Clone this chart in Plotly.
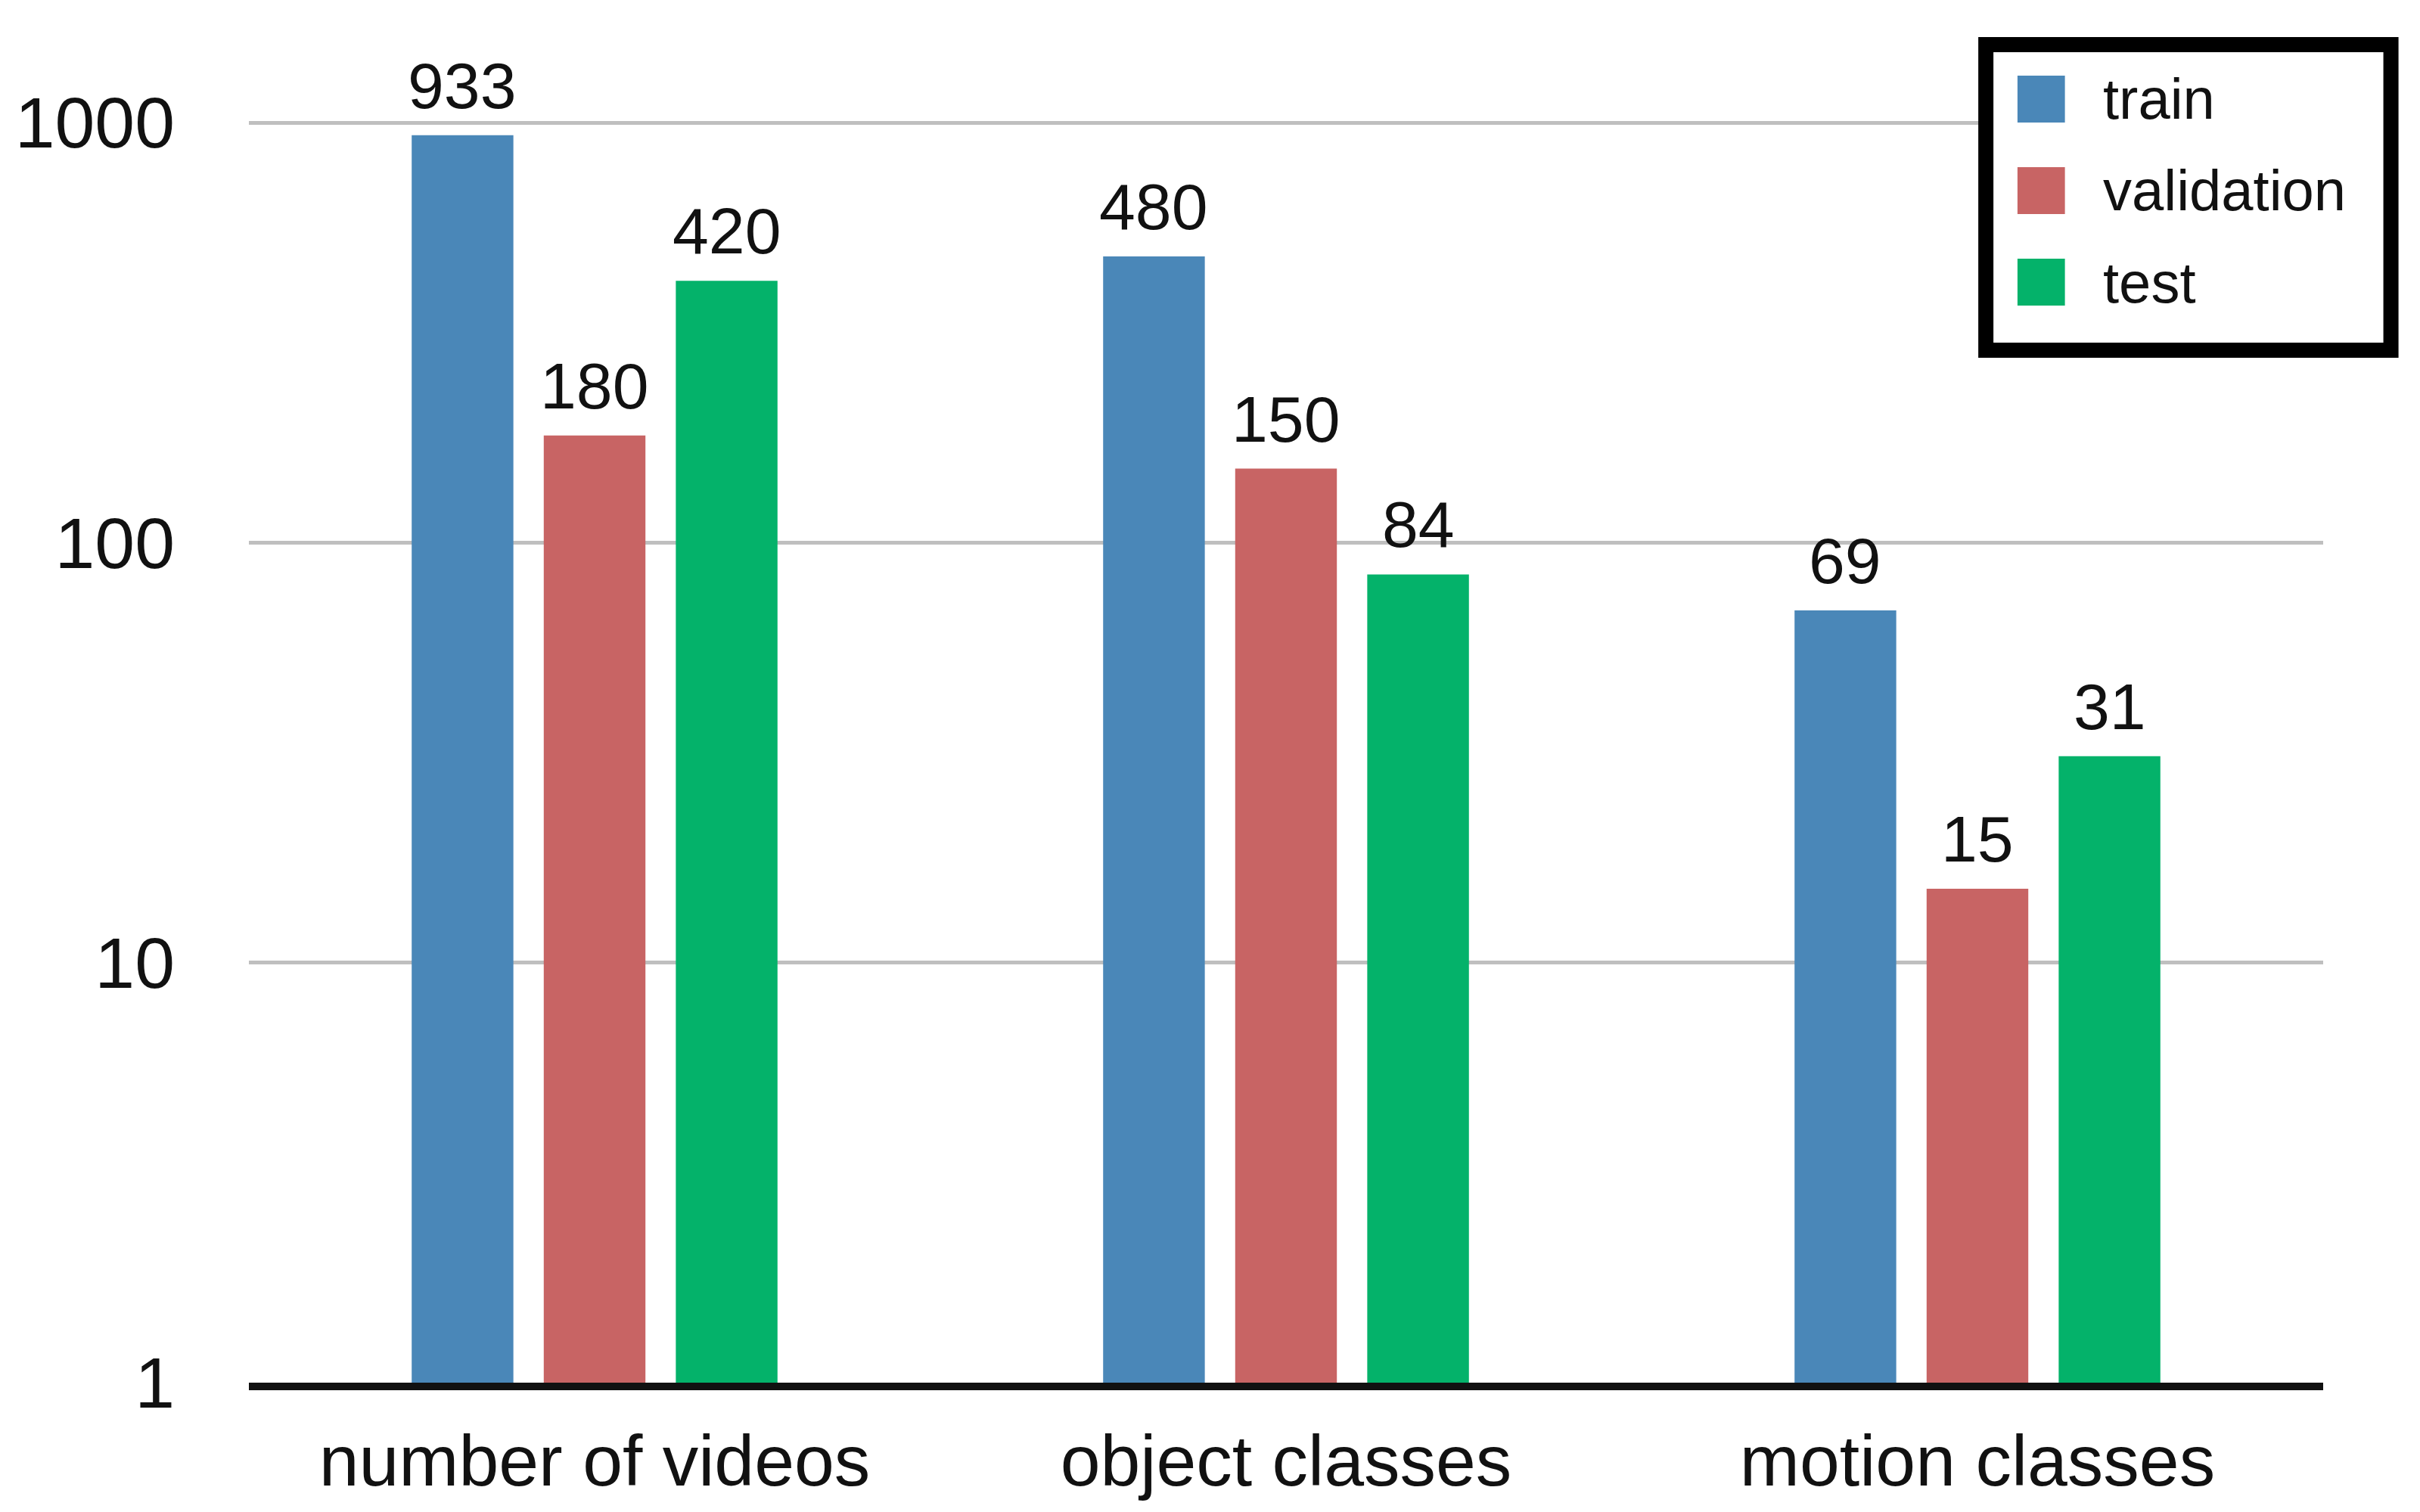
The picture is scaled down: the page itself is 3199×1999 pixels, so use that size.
import math
import plotly.graph_objects as go

categories = ["number of videos", "object classes", "motion classes"]
series_names = ["train", "validation", "test"]
train = [933, 480, 69]
validation = [180, 150, 15]
test = [420, 84, 31]
colors = ["#4a87b8", "#c86464", "#04b26a"]
y_ticks = [1, 10, 100, 1000]

W, H = 3199, 1999
ML, MR, MT, MB = 308, 136, 12, 179
PW, PH = W - ML - MR, H - MT - MB
DECADE = 555.3  # px per decade on the reference
BARGAP, GROUPGAP = 0.427, 0.23
SLOT = PW / len(categories) * (1 - BARGAP) / len(series_names)  # px per bar slot


def px(x):
    return (x - ML) / PW


def py(y):
    return 1 - (y - MT) / PH


fig = go.Figure()
for i, (name, vals, col) in enumerate(zip(series_names, [train, validation, test], colors)):
    fig.add_trace(go.Bar(x=categories, y=vals, name=name, showlegend=False,
                         marker={"color": col, "line": {"width": 0}}))
    # value labels sit a bit higher above the bars than plotly's outside text
    for cat, v in zip(categories, vals):
        fig.add_annotation(x=cat, y=math.log10(v), text=str(v), showarrow=False,
                           yanchor="middle", xshift=(i - 1) * SLOT, yshift=66,
                           font={"size": 86, "color": "#111111"})

# hand-drawn legend (plotly's legend swatches don't scale)
fig.add_shape(type="rect", xref="paper", yref="paper",
              x0=px(2615), x1=px(3153), y0=py(51), y1=py(455),
              line={"color": "black", "width": 20}, fillcolor="white", layer="above")
for i, (name, col) in enumerate(zip(series_names, colors)):
    cy = 123 + i * 121
    fig.add_shape(type="rect", xref="paper", yref="paper",
                  x0=px(2657), x1=px(2720), y0=py(cy - 31), y1=py(cy + 31),
                  line={"width": 0}, fillcolor=col, layer="above")
    fig.add_annotation(xref="paper", yref="paper", x=px(2769), y=py(cy), text=name,
                       showarrow=False, xanchor="left", yanchor="middle",
                       font={"size": 76, "color": "#111111"})

fig.update_layout(
    width=W, height=H, barmode="group", bargap=BARGAP, bargroupgap=GROUPGAP,
    paper_bgcolor="white", plot_bgcolor="white",
    margin={"l": ML, "r": MR, "t": MT, "b": MB},
    font={"family": "Arial, Liberation Sans, sans-serif", "color": "#111111"},
    xaxis={"showline": True, "linecolor": "#111111", "linewidth": 10, "showgrid": False,
           "ticks": "", "tickfont": {"size": 95}, "ticklabelstandoff": 12},
    yaxis={"type": "log", "range": [0, PH / DECADE], "tickvals": y_ticks,
           "ticktext": [str(t) for t in y_ticks], "showgrid": True,
           "gridcolor": "#bfbfbf", "gridwidth": 5, "showline": False, "zeroline": False,
           "ticks": "", "tickfont": {"size": 95}, "ticklabelstandoff": 97},
)

fig.write_html("out.html")
